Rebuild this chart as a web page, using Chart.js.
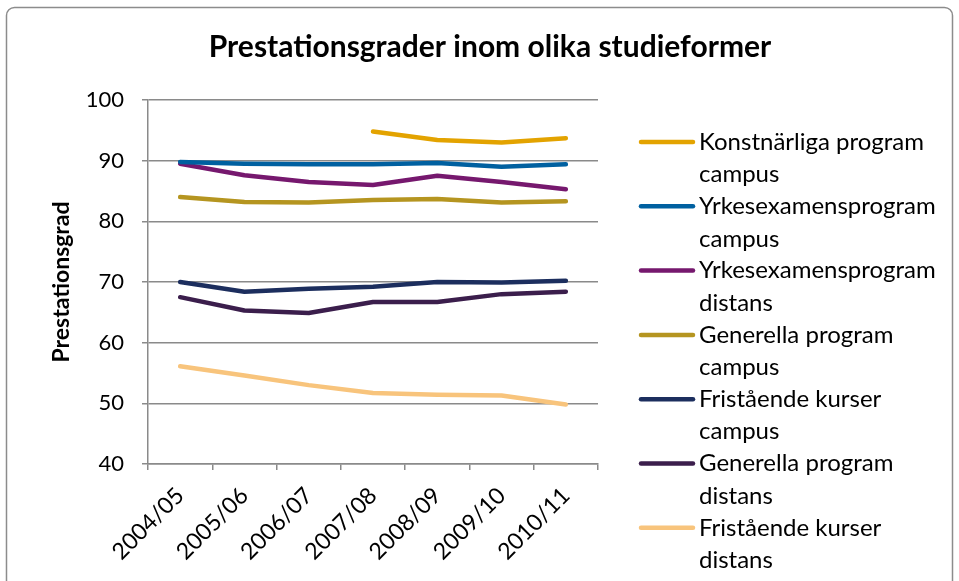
<!DOCTYPE html>
<html>
<head>
<meta charset="utf-8">
<script src="https://cdn.jsdelivr.net/npm/chart.js@4"></script>
<style>
  html, body { margin: 0; padding: 0; background: #fff; }
  #wrap { width: 959px; height: 581px; position: relative; }
</style>
</head>
<body>
<div id="wrap"><canvas id="grafico"></canvas></div>
<script>
const years = ['2004/05', '2005/06', '2006/07', '2007/08', '2008/09', '2009/10', '2010/11'];

const konstCampus   = [null, null, null, 94.8, 93.4, 93.0, 93.7];
const yrkesCampus   = [89.8, 89.5, 89.4, 89.4, 89.6, 89.0, 89.4];
const yrkesDistans  = [89.5, 87.6, 86.5, 86.0, 87.5, 86.5, 85.3];
const genCampus     = [84.0, 83.2, 83.1, 83.5, 83.7, 83.1, 83.3];
const fristCampus   = [70.0, 68.4, 68.9, 69.2, 70.0, 69.9, 70.2];
const genDistans    = [67.5, 65.3, 64.9, 66.7, 66.7, 68.0, 68.4];
const fristDistans  = [56.1, 54.6, 53.0, 51.7, 51.4, 51.3, 49.8];

const seriesNames = [
    ['Konstnärliga program', 'campus'],
    ['Yrkesexamensprogram', 'campus'],
    ['Yrkesexamensprogram', 'distans'],
    ['Generella program', 'campus'],
    ['Fristående kurser', 'campus'],
    ['Generella program', 'distans'],
    ['Fristående kurser', 'distans']
];
const seriesValues = [konstCampus, yrkesCampus, yrkesDistans, genCampus, fristCampus, genDistans, fristDistans];
const seriesColors = ['#E3A300', '#0060A0', '#76186E', '#B59520', '#1C2E5E', '#3B1E4C', '#F8C47C'];

const chartTitle = 'Prestationsgrader inom olika studieformer';

const fonte = 'Lato, "Open Sans", sans-serif';
const cinza = '#8a8a8a';

// moldura arredondada, título e legenda desenhados à mão (rótulos em duas linhas)
const moldura = {
    id: 'moldura',
    beforeDraw(chart) {
        const c = chart.ctx;
        c.save();
        c.fillStyle = '#fff';
        c.fillRect(0, 0, chart.width, chart.height);
        c.strokeStyle = '#8c8c8c';
        c.lineWidth = 1.5;
        c.beginPath();
        c.roundRect(6.5, 7.5, 946, 600, 8);
        c.stroke();
        c.restore();
    },
    afterDraw(chart) {
        const c = chart.ctx;
        c.save();
        c.fillStyle = '#000';
        c.textBaseline = 'middle';
        c.textAlign = 'center';
        c.font = 'bold 30px ' + fonte;
        c.fillText(chartTitle, 490, 47);

        c.textAlign = 'left';
        c.font = '24px ' + fonte;
        chart.data.datasets.forEach((ds, i) => {
            const y = 142 + i * 64.3;
            c.strokeStyle = ds.borderColor;
            c.lineWidth = 4.5;
            c.lineCap = 'round';
            c.beginPath();
            c.moveTo(641, y);
            c.lineTo(693, y);
            c.stroke();
            ds.lines.forEach((t, k) => c.fillText(t, 699, y + k * 32.5));
        });
        c.restore();
    }
};

const datasets = seriesNames.map((n, i) => ({
    label: n.join(' '),
    lines: n,
    data: seriesValues[i],
    borderColor: seriesColors[i],
    backgroundColor: seriesColors[i],
    borderWidth: 4.5,
    borderCapStyle: 'round',
    borderJoinStyle: 'round',
    pointRadius: 0,
    tension: 0,
    spanGaps: false
}));

new Chart(document.getElementById('grafico'), {
    type: 'line',
    data: { labels: years, datasets: datasets },
    plugins: [moldura],
    options: {
        responsive: true,
        maintainAspectRatio: false,
        animation: false,
        layout: { padding: { left: 48, right: 361, top: 100, bottom: 0 } },
        plugins: {
            legend: { display: false },
            tooltip: { enabled: false },
            title: { display: false }
        },
        scales: {
            x: {
                offset: true,
                afterFit: s => { s.height = 117; },
                border: { color: cinza, width: 1.5 },
                grid: { drawOnChartArea: false, drawTicks: true, tickLength: 6, color: cinza, lineWidth: 1.5, offset: true },
                ticks: {
                    color: '#000',
                    font: { family: fonte, size: 23 },
                    maxRotation: 45,
                    minRotation: 45,
                    padding: 12
                }
            },
            y: {
                min: 40,
                max: 100,
                afterFit: s => { s.width = 100; },
                border: { color: cinza, width: 1.5 },
                grid: { color: cinza, lineWidth: 1.5, tickLength: 6 },
                ticks: {
                    stepSize: 10,
                    color: '#000',
                    font: { family: fonte, size: 22 },
                    padding: 18
                },
                title: {
                    display: true,
                    text: 'Prestationsgrad',
                    color: '#000',
                    font: { family: fonte, size: 23, weight: 'bold' },
                    padding: { top: 0, bottom: 0 }
                }
            }
        }
    }
});
</script>
</body>
</html>
